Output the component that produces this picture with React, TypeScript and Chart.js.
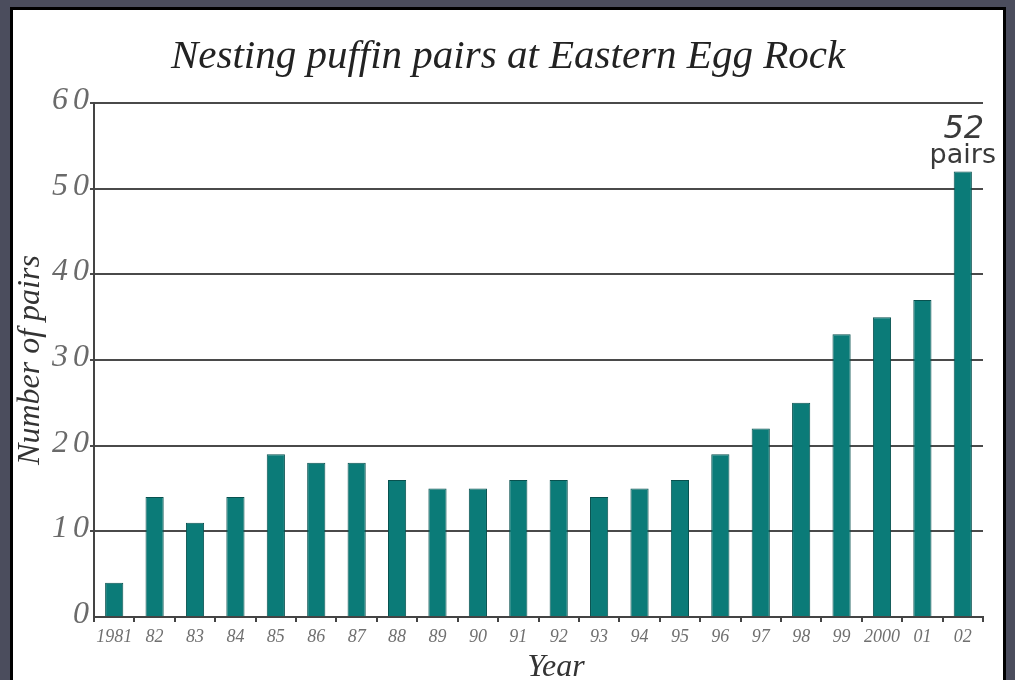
import React, { useEffect, useRef } from "react";
import { Chart, registerables } from "chart.js";

Chart.register(...registerables);

const years = ["1981", "82", "83", "84", "85", "86", "87", "88", "89", "90", "91", "92", "93", "94", "95", "96", "97", "98", "99", "2000", "01", "02"];
const pairs = [4, 14, 11, 14, 19, 18, 18, 16, 15, 15, 16, 16, 14, 15, 16, 19, 22, 25, 33, 35, 37, 52];
const yTicks = [0, 10, 20, 30, 40, 50, 60];
const chartTitle = "Nesting puffin pairs at Eastern Egg Rock";
const xTitle = "Year";
const yTitle = "Number of pairs";
const noteNumber = "52";
const noteUnit = "pairs";

const SERIF = "'Liberation Serif', 'DejaVu Serif', serif";
const SANS = "'DejaVu Sans', 'Noto Sans', sans-serif";

const overlayPlugin = {
  id: "overlay",
  afterDraw(chart: any) {
    const ctx = chart.ctx as CanvasRenderingContext2D;
    const ys = chart.scales.y;
    const xs = chart.scales.x;
    ctx.save();
    // title
    ctx.fillStyle = "#222";
    ctx.font = `italic 41px ${SERIF}`;
    ctx.textAlign = "center";
    ctx.textBaseline = "alphabetic";
    ctx.fillText(chartTitle, 508, 68);
    // x axis title
    ctx.fillStyle = "#333";
    ctx.font = `italic 32px ${SERIF}`;
    ctx.fillText(xTitle, 556, 676);
    // y tick labels with letter spacing
    ctx.fillStyle = "#6a6a6a";
    ctx.font = `italic 32px ${SERIF}`;
    (ctx as any).letterSpacing = "5px";
    ctx.textAlign = "right";
    ctx.textBaseline = "alphabetic";
    yTicks.forEach((v) => {
      ctx.fillText(String(v), ys.right, ys.getPixelForValue(v) + 6);
    });
    (ctx as any).letterSpacing = "0px";
    // annotation on last bar
    const last = pairs.length - 1;
    const bx = xs.getPixelForValue(last);
    const by = ys.getPixelForValue(pairs[last]);
    ctx.fillStyle = "#3a3a3a";
    ctx.textAlign = "center";
    ctx.textBaseline = "alphabetic";
    ctx.font = `italic 32px ${SANS}`;
    ctx.fillText(noteNumber, bx + 1, by - 34);
    ctx.font = `27px ${SANS}`;
    ctx.fillText(noteUnit, bx, by - 9);
    ctx.restore();
  },
};

export default function App() {
  const ref = useRef<HTMLCanvasElement | null>(null);
  useEffect(() => {
    if (!ref.current) return;
    const chart = new Chart(ref.current, {
      type: "bar",
      data: {
        labels: years,
        datasets: [
          {
            data: pairs,
            backgroundColor: "#0b7b78",
            borderColor: "#08514f",
            borderWidth: 1,
            barPercentage: 0.9,
            categoryPercentage: 0.5,
          },
        ],
      },
      options: {
        animation: false,
        responsive: false,
        maintainAspectRatio: false,
        events: [],
        layout: { padding: { left: 0, top: 103, right: 32, bottom: 0 } },
        plugins: { legend: { display: false }, tooltip: { enabled: false }, title: { display: false } },
        scales: {
          x: {
            type: "category",
            offset: true,
            grid: {
              offset: true,
              drawOnChartArea: false,
              drawTicks: true,
              tickLength: 5,
              color: "#444",
              lineWidth: 2,
            },
            border: { display: true, color: "#444", width: 2 },
            ticks: {
              color: "#707070",
              font: { family: SERIF, style: "italic", size: 18 },
              padding: 4,
              maxRotation: 0,
              autoSkip: false,
            },
            afterFit(scale: any) {
              scale.height = 63;
            },
          },
          y: {
            min: 0,
            max: 60,
            ticks: { stepSize: 10, display: false },
            grid: {
              color: (c: any) => (c.tick && c.tick.value === 0 ? "rgba(0,0,0,0)" : "#4a4a4a"),
              lineWidth: 2,
              drawTicks: true,
              tickLength: 4,
            },
            border: { display: true, color: "#444", width: 2 },
            title: {
              display: true,
              text: yTitle,
              color: "#333",
              font: { family: SERIF, style: "italic", size: 32 },
              padding: { top: 11, bottom: 0 },
            },
            afterFit(scale: any) {
              scale.width = 94;
            },
          },
        },
      },
      plugins: [overlayPlugin],
    } as any);
    return () => chart.destroy();
  }, []);

  return (
    <div style={{ position: "fixed", left: 0, top: 0, width: 1015, height: 680, background: "#4b4d5d", overflow: "hidden" }}>
      <div
        style={{
          position: "absolute",
          left: 10,
          top: 7,
          width: 996,
          height: 700,
          background: "#fff",
          border: "3px solid #000",
          boxSizing: "border-box",
        }}
      />
      <canvas ref={ref} width={1015} height={680} style={{ position: "absolute", left: 0, top: 0, width: 1015, height: 680 }} />
    </div>
  );
}
